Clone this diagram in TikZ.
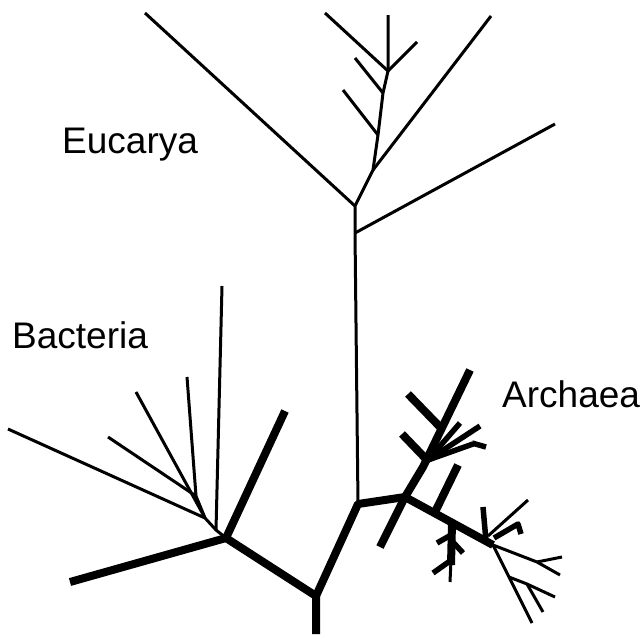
\documentclass[tikz,border=0pt]{standalone}
\usepackage{fontspec}
\setmainfont{Liberation Sans}
\begin{document}
\begin{tikzpicture}[x=1pt,y=-1pt,line join=round,
		thinbranch/.style={line width=3pt},
		midbranch/.style={line width=5.5pt},
		thickbranch/.style={line width=8pt},
		domainlabel/.style={anchor=base west,inner sep=0pt,font=\fontsize{37}{40}\selectfont}]
	\useasboundingbox (0,0) rectangle (642,637);
	% root and main forks
	\coordinate (root) at (316,634);
	\coordinate (fork) at (316,596);
	\coordinate (bac) at (226,538);
	\coordinate (mid) at (358,504);
	\coordinate (euk) at (355,206);
	\coordinate (eukb) at (355,233);
	\coordinate (arc) at (405,497);
	\coordinate (arcb) at (493,545);
	\draw[thickbranch] (root) -- (fork) -- (bac);
	\draw[thickbranch] (fork) -- (mid) -- (arc) -- (arcb);
	% Bacteria
	\coordinate (bt1) at (216,530);
	\coordinate (bt2) at (205,518);
	\coordinate (bt3) at (196,496);
	\draw[thickbranch] (70,582) -- (bac) -- (285,411);
	\draw[thinbranch] (bac) -- (bt1) -- (bt2) -- (bt3);
	\draw[thinbranch] (bt1) -- (222,286);
	\foreach \leaf in {(8,429),(136,392)}
		\draw[thinbranch] (bt2) -- \leaf;
	\foreach \leaf in {(108,437),(187,377)}
		\draw[thinbranch] (bt3) -- \leaf;
	% Eucarya
	\coordinate (s1) at (373,170);
	\coordinate (s2) at (378,135);
	\coordinate (s3) at (383,93);
	\coordinate (s4) at (388,71);
	\draw[thinbranch] (mid) -- (eukb) -- (euk) -- (s1) -- (s2) -- (s3) -- (s4) -- (388,15);
	\draw[thinbranch] (eukb) -- (555,124);
	\draw[thinbranch] (euk) -- (145,13);
	\draw[thinbranch] (s1) -- (491,16);
	\draw[thinbranch] (s2) -- (343,90);
	\draw[thinbranch] (s3) -- (355,58);
	\draw[thinbranch] (325,13) -- (s4) -- (417,42);
	% Archaea, upper group
	\coordinate (au) at (423,467);
	\coordinate (au2) at (428,460);
	\draw[thickbranch] (380,547) -- (arc) -- (au) -- (470,370);
	\draw[thickbranch] (408,394) -- (441,428);
	\draw[thickbranch] (402,434) -- (426,459);
	\foreach \leaf in {(460,423),(480,426),(473,444)}
		\draw[midbranch] (au2) -- \leaf;
	\draw[midbranch] (472,443) -- (486,447);
	% Archaea, lower group
	\coordinate (stem) at (452,523);
	\draw[thickbranch] (435,512) -- (458,465);
	\draw[thickbranch] (stem) -- (451,565);
	\draw[thinbranch] (451,560) -- (450,582);
	\draw[midbranch] (437,543) -- (451,535);
	\draw[midbranch] (452,541) -- (463,553);
	\draw[midbranch] (433,573) -- (450,561);
	\draw[midbranch] (486,541) -- (483,507);
	\draw[thinbranch] (488,536) -- (528,500);
	\draw[midbranch] (494,538) -- (518,524) -- (521,534);
	\coordinate (a4) at (537,562);
	\coordinate (a5) at (509,577);
	\coordinate (a6) at (527,584);
	\draw[thinbranch] (arcb) -- (a4) -- (560,575);
	\draw[thinbranch] (a4) -- (562,557);
	\draw[thinbranch] (arcb) -- (a5) -- (532,623);
	\draw[thinbranch] (a5) -- (a6) -- (555,597);
	\draw[thinbranch] (a6) -- (543,612);
	% labels
	\node[domainlabel] (eucarya) at (62,153) {Eucarya};
	\node[domainlabel] (bacteria) at (12,348) {Bacteria};
	\node[domainlabel] (archaea) at (502,407) {Archaea};
\end{tikzpicture}
\end{document}
